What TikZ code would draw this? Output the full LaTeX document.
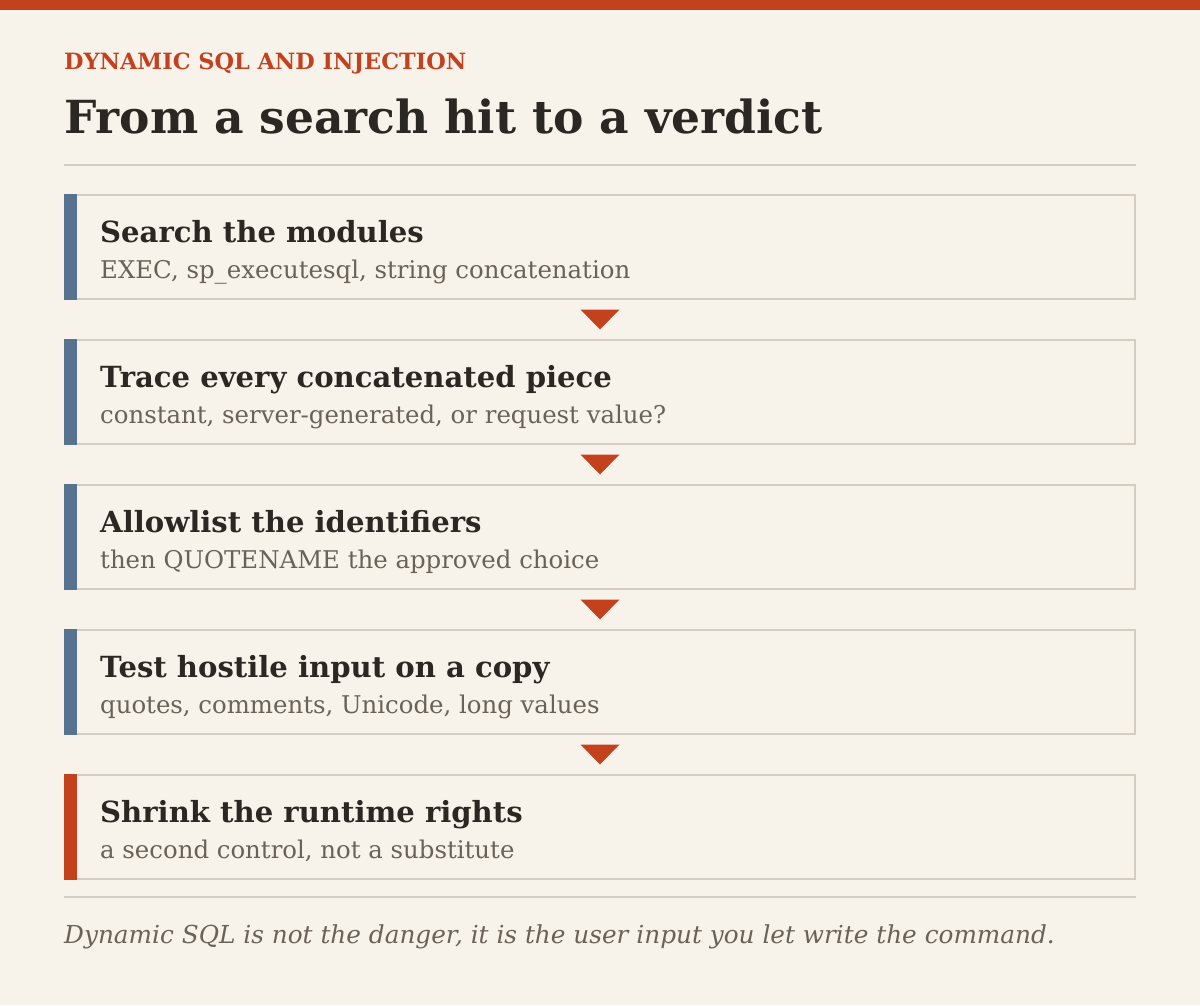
\documentclass[tikz,border=0pt]{standalone}
\usepackage{fontspec}
\setmainfont{DejaVu Serif}
\usetikzlibrary{positioning,calc}
\definecolor{paper}{HTML}{F8F3EA}
\definecolor{brick}{HTML}{C4411E}
\definecolor{slate}{HTML}{587390}
\definecolor{ink}{HTML}{2B2722}
\definecolor{subgray}{HTML}{6A6259}
\definecolor{rulegray}{HTML}{D5CDC1}

\begin{document}
\begin{tikzpicture}[x=1pt,y=1pt,
     stepbox/.style = {draw=rulegray, line width=1.6pt, minimum width=1070.4pt, minimum height=104.4pt, inner sep=0pt},
     head/.style = {anchor=base west, inner sep=0pt, text=ink, font=\bfseries\fontsize{29.1}{34}\selectfont},
     sub/.style = {anchor=base west, inner sep=0pt, text=subgray, font=\fontsize{24.4}{30}\selectfont},
     node distance=39pt]
     \fill[paper] (0,0) rectangle (1200,-1005);
     \useasboundingbox (0,0) rectangle (1200,-1005);
     \fill[brick] (0,0) rectangle (1200,-10);
     % heading
     \node[anchor=base west, inner sep=0pt, text=brick, font=\bfseries\fontsize{22.4}{26}\selectfont] (kicker) at (64,-69) {DYNAMIC SQL AND INJECTION};
     \node[anchor=base west, inner sep=0pt, text=ink, font=\bfseries\fontsize{45.6}{52}\selectfont] (title) at (64,-133) {From a search hit to a verdict};
     \draw[rulegray, line width=1.6pt] (64,-165) -- (1136,-165);
     % steps
     \node[stepbox, anchor=north west] (s1) at (64,-194) {};
     \node[stepbox] (s2) [below=of s1] {};
     \node[stepbox] (s3) [below=of s2] {};
     \node[stepbox] (s4) [below=of s3] {};
     \node[stepbox] (s5) [below=of s4] {};
     \foreach \s in {s1,s2,s3,s4}
          \fill[slate] (\s.north west) rectangle ([xshift=13pt]\s.south west);
     \fill[brick] (s5.north west) rectangle ([xshift=13pt]s5.south west);
     \foreach \a/\b in {s1/s2,s2/s3,s3/s4,s4/s5}
          \fill[brick] ($(\a.south)!0.5!(\b.north)$) +(-19.5,10) -- +(19.5,10) -- +(0,-10) -- cycle;
     \node[head] (h1) at ([shift={(36,-48)}]s1.north west) {Search the modules};
     \node[sub] (d1) at ([shift={(36,-84)}]s1.north west) {EXEC, sp\_executesql, string concatenation};
     \node[head] (h2) at ([shift={(36,-48)}]s2.north west) {Trace every concatenated piece};
     \node[sub] (d2) at ([shift={(36,-84)}]s2.north west) {constant, server-generated, or request value?};
     \node[head] (h3) at ([shift={(36,-48)}]s3.north west) {Allowlist the identifiers};
     \node[sub] (d3) at ([shift={(36,-84)}]s3.north west) {then QUOTENAME the approved choice};
     \node[head] (h4) at ([shift={(36,-48)}]s4.north west) {Test hostile input on a copy};
     \node[sub] (d4) at ([shift={(36,-84)}]s4.north west) {quotes, comments, Unicode, long values};
     \node[head] (h5) at ([shift={(36,-48)}]s5.north west) {Shrink the runtime rights};
     \node[sub] (d5) at ([shift={(36,-84)}]s5.north west) {a second control, not a substitute};
     % footnote
     \draw[rulegray, line width=1.6pt] (64,-897) -- (1136,-897);
     \node[anchor=base west, inner sep=0pt, text=subgray, font=\itshape\fontsize{24.75}{30}\selectfont] (note) at (64,-943) {Dynamic SQL is not the danger, it is the user input you let write the command.};
\end{tikzpicture}
\end{document}
